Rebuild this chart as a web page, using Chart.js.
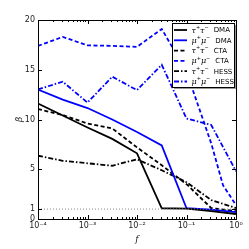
<!DOCTYPE html>
<html><head><meta charset="utf-8">
<script src="https://cdn.jsdelivr.net/npm/chart.js@4"></script>
<style>html,body{margin:0;padding:0;background:#fff}#wrap{width:249px;height:249px}</style>
</head><body>
<div id="wrap"><canvas id="c"></canvas></div>
<script>
// ---- data ----
const fGrid = [1e-4, 3.162e-4, 1e-3, 3.162e-3, 1e-2, 3.162e-2, 1e-1, 3.162e-1, 1];
const fMuCTA = [1e-4, 3.162e-4, 1e-3, 3.162e-3, 1e-2, 3.162e-2, 1e-1, 3.162e-1, 0.546, 1];
const tauDMA = [11.6, 10.4, 9.2, 8.05, 6.6, 1.08, 1.05, 0.8, 0.5];
const muDMA = [13.0, 12.0, 11.15, 10.0, 8.75, 7.4, 1.08, 0.95, 0.7];
const tauCTA = [11.05, 10.45, 9.6, 9.1, 7.2, 5.4, 3.5, 1.1, 0.8];
const muCTA = [17.4, 18.3, 17.45, 17.4, 17.3, 19.1, 14.8, 7.6, 3.4, 1.4];
const tauHESS = [6.36, 5.85, 5.6, 5.35, 6.0, 4.9, 3.7, 1.9, 1.1];
const muHESS = [13.03, 13.8, 11.7, 14.3, 12.95, 15.5, 10.1, 9.45, 4.8];
const refLineF = [1e-4, 1];
const refLineY = [1, 1];
const yTicks = [0, 1, 5, 10, 15, 20];
const xTicks = [1e-4, 1e-3, 1e-2, 1e-1, 1];
const xTickLabels = ['10⁻⁴', '10⁻³', '10⁻²', '10⁻¹', '10⁰'];
const legendParticles = ['τ', 'μ', 'τ', 'μ', 'τ', 'μ'];
const legendExperiments = ['DMA', 'DMA', 'CTA', 'CTA', 'HESS', 'HESS'];

const BLUE = '#0000ff', BLACK = '#000000';
const DASH = [4, 2.5], DASHDOT = [5, 2, 1.5, 2];
const pts = (xs, ys) => xs.map((x, i) => ({x, y: ys[i]}));

const datasets = [
  {label: 'tauDMA', data: pts(fGrid, tauDMA), borderColor: BLACK, borderDash: []},
  {label: 'muDMA', data: pts(fGrid, muDMA), borderColor: BLUE, borderDash: []},
  {label: 'tauCTA', data: pts(fGrid, tauCTA), borderColor: BLACK, borderDash: DASH},
  {label: 'muCTA', data: pts(fMuCTA, muCTA), borderColor: BLUE, borderDash: DASH},
  {label: 'tauHESS', data: pts(fGrid, tauHESS), borderColor: BLACK, borderDash: DASHDOT},
  {label: 'muHESS', data: pts(fGrid, muHESS), borderColor: BLUE, borderDash: DASHDOT},
].map(d => Object.assign(d, {borderWidth: 1.8, pointRadius: 0, tension: 0, fill: false}));
datasets.unshift({label: 'ref', data: pts(refLineF, refLineY), borderColor: '#888', borderWidth: 1,
  borderDash: [1, 2], pointRadius: 0, fill: false});

const framePlugin = {
  id: 'frame',
  afterDraw(chart) {
    const {ctx, chartArea: a, scales: {x, y}} = chart;
    ctx.save();
    ctx.strokeStyle = '#000'; ctx.lineWidth = 1;
    ctx.beginPath();
    for (let e = -4; e <= 0; e++) {
      for (let m = 1; m <= 9; m++) {
        const v = m * Math.pow(10, e);
        if (v > 1) break;
        const px = Math.round(x.getPixelForValue(v)) + 0.5;
        const len = m === 1 ? 4 : 2;
        ctx.moveTo(px, a.bottom); ctx.lineTo(px, a.bottom - len);
        ctx.moveTo(px, a.top); ctx.lineTo(px, a.top + len);
      }
    }
    yTicks.forEach(v => {
      const py = Math.round(y.getPixelForValue(v)) + 0.5;
      ctx.moveTo(a.left, py); ctx.lineTo(a.left + 4, py);
      ctx.moveTo(a.right, py); ctx.lineTo(a.right - 4, py);
    });
    ctx.stroke();
    ctx.strokeRect(Math.round(a.left) + 0.5, Math.round(a.top) + 0.5,
      Math.round(a.right - a.left), Math.round(a.bottom - a.top));
    // legend
    const bx = 172, by = 23, bw = 62, bh = 64;
    ctx.fillStyle = '#999';
    ctx.fillRect(bx + 2, by + 2, bw, bh);
    ctx.fillStyle = '#fff';
    ctx.fillRect(bx, by, bw, bh);
    ctx.strokeRect(bx + 0.5, by + 0.5, bw, bh);
    const rowY = [30, 40.3, 50.6, 60.9, 71.2, 81.5];
    chart.data.datasets.slice(1).forEach((d, i) => {
      const ry = rowY[i];
      ctx.beginPath();
      ctx.setLineDash(d.borderDash);
      ctx.strokeStyle = d.borderColor; ctx.lineWidth = 1.8;
      ctx.moveTo(174, ry); ctx.lineTo(187, ry); ctx.stroke();
      ctx.setLineDash([]);
      ctx.fillStyle = '#000';
      ctx.textBaseline = 'middle';
      let tx = 191.5;
      const p = legendParticles[i];
      ctx.font = 'italic 8px "DejaVu Serif"';
      ctx.fillText(p, tx, ry + 0.5); tx += ctx.measureText(p).width;
      ctx.font = '5px "DejaVu Sans"';
      ctx.fillText('+', tx, ry - 2.5); tx += ctx.measureText('+').width;
      ctx.font = 'italic 8px "DejaVu Serif"';
      ctx.fillText(p, tx, ry + 0.5); tx += ctx.measureText(p).width;
      ctx.font = '5px "DejaVu Sans"';
      ctx.fillText('−', tx, ry - 2.5); tx += ctx.measureText('−').width;
      ctx.font = '7px "DejaVu Sans"';
      ctx.fillText(legendExperiments[i], tx + 5, ry + 0.5);
    });
    ctx.restore();
  }
};

new Chart(document.getElementById('c'), {
  type: 'line',
  data: {datasets},
  options: {
    responsive: true, maintainAspectRatio: false, animation: false,
    layout: {padding: {top: 20, right: 13, left: 0, bottom: 0}},
    plugins: {legend: {display: false}, tooltip: {enabled: false}},
    scales: {
      x: {
        type: 'logarithmic', min: 1e-4, max: 1,
        afterBuildTicks: s => { s.ticks = xTicks.map(v => ({value: v})); },
        afterFit: s => { s.height = 30; },
        ticks: {autoSkip: false, maxRotation: 0, padding: 2, color: '#222',
          font: {family: 'DejaVu Sans', size: 8},
          callback: (v) => { const i = xTicks.findIndex(t => Math.abs(t - v) / t < 1e-6); return i >= 0 ? xTickLabels[i] : ''; }},
        grid: {display: false, drawTicks: false}, border: {display: false},
        title: {display: true, text: 'f', color: '#222', padding: {top: 0, bottom: 4},
          font: {family: 'DejaVu Serif', style: 'italic', size: 9}}
      },
      y: {
        type: 'linear', min: 0, max: 20,
        afterBuildTicks: s => { s.ticks = yTicks.map(v => ({value: v})); },
        afterFit: s => { s.width = 38; },
        ticks: {autoSkip: false, padding: 3, color: '#222', font: {family: 'DejaVu Sans', size: 8}},
        grid: {display: false, drawTicks: false}, border: {display: false},
        title: {display: true, text: 'β', color: '#222', padding: {top: 14, bottom: 0},
          font: {family: 'DejaVu Serif', style: 'italic', size: 9}}
      }
    }
  },
  plugins: [framePlugin]
});
</script>
</body></html>
